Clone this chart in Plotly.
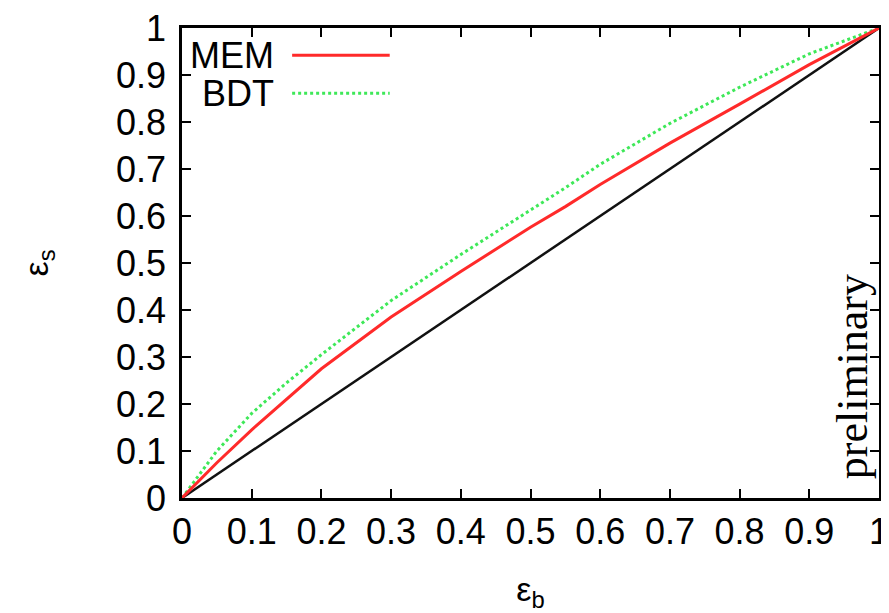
import plotly.graph_objects as go

# ROC-like efficiencies: background efficiency (x) vs signal efficiency (y)
eps_b = [0.0, 0.05, 0.1, 0.15, 0.2, 0.3, 0.4, 0.5, 0.55, 0.6, 0.7, 0.8, 0.9, 1.0]
mem_s = [0.0, 0.075, 0.145, 0.21, 0.275, 0.385, 0.482, 0.576, 0.62, 0.667, 0.755, 0.838, 0.922, 1.0]
bdt_s = [0.0, 0.10, 0.18, 0.245, 0.305, 0.42, 0.518, 0.612, 0.66, 0.71, 0.797, 0.874, 0.945, 1.0]
diag_x = [0.0, 1.0]
diag_y = [0.0, 1.0]

tick_vals = [0, 0.1, 0.2, 0.3, 0.4, 0.5, 0.6, 0.7, 0.8, 0.9, 1]
tick_text = ["0", "0.1", "0.2", "0.3", "0.4", "0.5", "0.6", "0.7", "0.8", "0.9", "1"]

legend_names = ["MEM", "BDT"]
RED = "#ff2a2a"
GREEN = "#3ee858"

fig = go.Figure()
fig.add_trace(go.Scatter(x=diag_x, y=diag_y, mode="lines",
                         line=dict(color="#111111", width=2.5), showlegend=False,
                         hoverinfo="skip"))
fig.add_trace(go.Scatter(x=eps_b, y=bdt_s, mode="lines", name=legend_names[1],
                         line=dict(color=GREEN, width=3, dash="dot"), showlegend=False))
fig.add_trace(go.Scatter(x=eps_b, y=mem_s, mode="lines", name=legend_names[0],
                         line=dict(color=RED, width=3), showlegend=False))

font_main = dict(family="Liberation Sans, Arial, sans-serif", size=36, color="black")
font_title = dict(family="Liberation Sans, Arial, sans-serif", size=34, color="black")

axis_common = dict(
    range=[0, 1], tickmode="array", tickvals=tick_vals, ticktext=tick_text,
    ticks="inside", ticklen=9, tickwidth=2, tickcolor="black",
    showline=True, linecolor="black", linewidth=2.5, mirror="ticks",
    showgrid=False, zeroline=False, tickfont=font_main, automargin=False,
    ticklabeloverflow="allow",
)

fig.update_layout(
    width=881, height=605,
    margin=dict(l=174, r=10, t=20, b=115, autoexpand=False),
    paper_bgcolor="white", plot_bgcolor="white",
    xaxis=dict(**axis_common, ticklabelstandoff=0,
               title=dict(text="ε<sub>b</sub>", font=font_title, standoff=36)),
    yaxis=dict(**axis_common, ticklabelstandoff=6,
               title=dict(text="ε<sub>s</sub>", font=font_title, standoff=58)),
    showlegend=False,
)

# gnuplot-style key: right-justified text followed by line sample
key_rows = [(legend_names[0], RED, "solid", 0.942), (legend_names[1], GREEN, "dot", 0.861)]
for name, col, dash, yy in key_rows:
    fig.add_annotation(x=0.135, y=yy, xref="x", yref="y", text=name, showarrow=False,
                       xanchor="right", yanchor="middle", font=font_main)
    fig.add_shape(type="line", xref="x", yref="y", x0=0.158, x1=0.298, y0=yy, y1=yy,
                  line=dict(color=col, width=3, dash=dash))

fig.add_annotation(x=0.962, y=0.258, xref="x", yref="y", text="preliminary", showarrow=False,
                   textangle=-90, xanchor="center", yanchor="middle",
                   font=dict(family="Liberation Serif, Times New Roman, serif", size=44, color="black"))

fig.write_html("out.html")
